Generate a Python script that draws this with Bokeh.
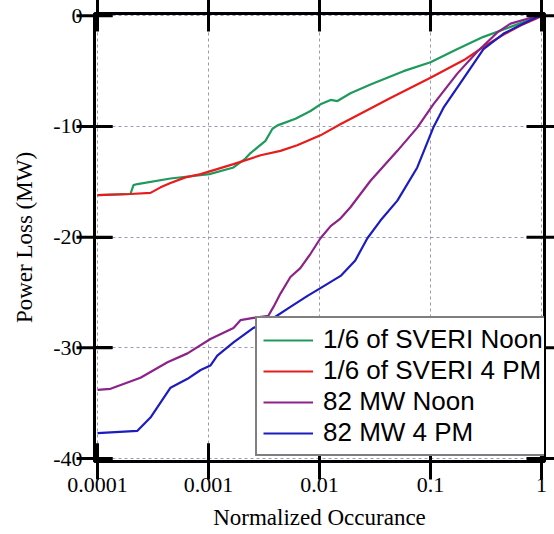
import math
from bokeh.plotting import figure
from bokeh.models import FixedTicker, Legend, LegendItem, Range1d
from bokeh.embed import file_html
from bokeh.resources import INLINE

# ---- data ----
green_x = [1e-4, 1.98e-4, 2.11e-4, 2.29e-4, 4.55e-4, 1.02e-3, 1.68e-3, 2.15e-3, 2.39e-3,
           3.26e-3, 3.77e-3, 4.19e-3, 6.08e-3, 8.3e-3, 1.02e-2, 1.26e-2, 1.45e-2, 1.9e-2,
           2.88e-2, 5.71e-2, 0.1, 0.175, 0.3, 0.526, 0.92, 1.0]
green_y = [-16.2, -16.1, -15.3, -15.2, -14.7, -14.3, -13.7, -12.9, -12.4,
           -11.3, -10.2, -9.9, -9.3, -8.6, -8.0, -7.6, -7.7, -7.0,
           -6.2, -5.0, -4.2, -3.0, -1.9, -1.0, -0.1, 0.0]

red_x = [1e-4, 1.98e-4, 3.0e-4, 3.7e-4, 4.55e-4, 6.2e-4, 8.5e-4, 1.68e-3, 2.95e-3,
         4.45e-3, 6.3e-3, 1.02e-2, 1.54e-2, 2.18e-2, 4.4e-2, 0.1, 0.2, 0.3, 0.456,
         0.64, 0.92, 1.0]
red_y = [-16.2, -16.1, -16.0, -15.5, -15.1, -14.6, -14.3, -13.4, -12.6,
         -12.2, -11.7, -10.8, -9.8, -9.0, -7.4, -5.6, -4.0, -2.8, -1.7,
         -0.9, -0.2, 0.0]

purple_x = [1e-4, 1.31e-4, 2.44e-4, 4.27e-4, 6.47e-4, 1.04e-3, 1.68e-3, 1.94e-3, 2.54e-3,
            3.46e-3, 3.85e-3, 4.45e-3, 5.47e-3, 6.72e-3, 8.3e-3, 1.02e-2, 1.26e-2,
            1.55e-2, 1.9e-2, 2.88e-2, 5.03e-2, 7.6e-2, 0.106, 0.175, 0.266, 0.4,
            0.526, 0.79, 0.98]
purple_y = [-33.8, -33.7, -32.7, -31.3, -30.5, -29.2, -28.2, -27.5, -27.3,
            -27.1, -26.3, -25.1, -23.6, -22.8, -21.5, -20.1, -19.0,
            -18.3, -17.3, -14.9, -12.2, -10.1, -8.0, -5.2, -3.2, -1.5,
            -0.7, -0.2, 0.0]

blue_x = [1e-4, 2.29e-4, 3.0e-4, 4.55e-4, 6.47e-4, 8.5e-4, 1.04e-3, 1.2e-3, 1.68e-3,
          2.54e-3, 3.85e-3, 5.47e-3, 7.8e-3, 1.02e-2, 1.55e-2, 2.1e-2, 2.7e-2,
          3.54e-2, 5.03e-2, 7.6e-2, 0.106, 0.131, 0.2, 0.3, 0.456, 0.69, 0.92, 1.0]
blue_y = [-37.7, -37.5, -36.3, -33.6, -32.8, -32.0, -31.6, -30.7, -29.5,
          -28.2, -27.3, -26.3, -25.3, -24.6, -23.5, -22.1, -20.1,
          -18.5, -16.7, -13.7, -10.1, -8.3, -5.6, -3.0, -1.6, -0.7, -0.1, 0.0]

series_names = ["1/6 of SVERI Noon", "1/6 of SVERI 4 PM", "82 MW Noon", "82 MW 4 PM"]
series_colors = ["#1f9a5c", "#e81c1c", "#8c2388", "#1c1cc0"]

x_ticks = [0.0001, 0.001, 0.01, 0.1, 1]
x_tick_labels = ["0.0001", "0.001", "0.01", "0.1", "1"]
y_ticks = [0, -10, -20, -30, -40]
y_tick_labels = ["0", "-10", "-20", "-30", "-40"]

SERIF = "Liberation Serif"
SANS = "Liberation Sans"

x_lo, x_hi = 10 ** -4.027, 10 ** 0.027
y_lo, y_hi = -40.27, 0.21

W, H = 554, 534
B_LEFT, B_RIGHT, B_TOP, B_BOTTOM = 94, 10, 13, 73
TICK = 18  # inward tick length, px

p = figure(width=W, height=H, x_axis_type="log",
           x_range=Range1d(x_lo, x_hi), y_range=Range1d(y_lo, y_hi),
           output_backend="svg", toolbar_location=None,
           min_border_left=B_LEFT, min_border_right=B_RIGHT,
           min_border_top=B_TOP, min_border_bottom=B_BOTTOM,
           x_axis_label="Normalized Occurance", y_axis_label="Power Loss (MW)")

p.outline_line_color = "black"
p.outline_line_width = 3

xt = FixedTicker(ticks=x_ticks)
yt = FixedTicker(ticks=y_ticks)

xa = p.xaxis[0]
ya = p.yaxis[0]
xa.ticker = xt
xa.major_label_overrides = dict(zip(x_ticks, x_tick_labels))
ya.ticker = yt
ya.major_label_overrides = dict(zip(y_ticks, y_tick_labels))

for ax in [xa, ya]:
    ax.axis_line_color = "black"
    ax.axis_line_width = 3
    ax.major_tick_in = TICK
    ax.major_tick_out = 0
    ax.major_tick_line_width = 3
    ax.major_tick_line_color = "#000000"
    ax.minor_tick_line_color = None
    ax.major_label_text_font = SERIF
    ax.major_label_text_font_size = "22px"
    ax.major_label_text_color = "black"
    ax.axis_label_text_font = SERIF
    ax.axis_label_text_font_size = "23px"
    ax.axis_label_text_font_style = "normal"
    ax.axis_label_text_color = "black"

xa.major_label_standoff = 16
xa.axis_label_standoff = 10
ya.major_label_standoff = 12
ya.axis_label_standoff = 13

p.grid.grid_line_color = "#9a9ab8"
p.grid.grid_line_dash = "3 3"
p.grid.grid_line_width = 1
p.xgrid.ticker = xt
p.ygrid.ticker = yt

# inward ticks on all four edges: dash markers centred on the frame edge
# (the half outside the frame is clipped, leaving an 18 px inward tick)
n = len(x_ticks)
m = len(y_ticks)
tick_sets = [
    (x_ticks, [y_hi] * n, math.pi / 2),
    (x_ticks, [y_lo] * n, math.pi / 2),
    ([x_hi] * m, y_ticks, 0.0),
    ([x_lo] * m, y_ticks, 0.0),
]
for tx, ty, ang in tick_sets:
    p.scatter(x=tx, y=ty, marker="dash", angle=ang, size=2 * TICK,
              line_color="#000000", line_width=3, level="overlay")

renderers = []
for xs, ys, c in [(green_x, green_y, series_colors[0]), (red_x, red_y, series_colors[1]),
                  (purple_x, purple_y, series_colors[2]), (blue_x, blue_y, series_colors[3])]:
    r = p.line(xs, ys, line_color=c, line_width=2.2)
    renderers.append(r)

legend = Legend(items=[LegendItem(label=n_, renderers=[r]) for n_, r in zip(series_names, renderers)],
                location=(161, 5))
legend.label_text_font = SANS
legend.label_text_font_size = "26px"
legend.label_text_color = "black"
legend.glyph_width = 50
legend.glyph_height = 28
legend.label_height = 28
legend.label_standoff = 10
legend.spacing = 0
legend.padding = 6
legend.margin = 0
legend.border_line_color = "black"
legend.border_line_width = 2
legend.background_fill_color = "white"
legend.background_fill_alpha = 1
p.add_layout(legend, "center")

open("out.html", "w").write(file_html(p, INLINE))
